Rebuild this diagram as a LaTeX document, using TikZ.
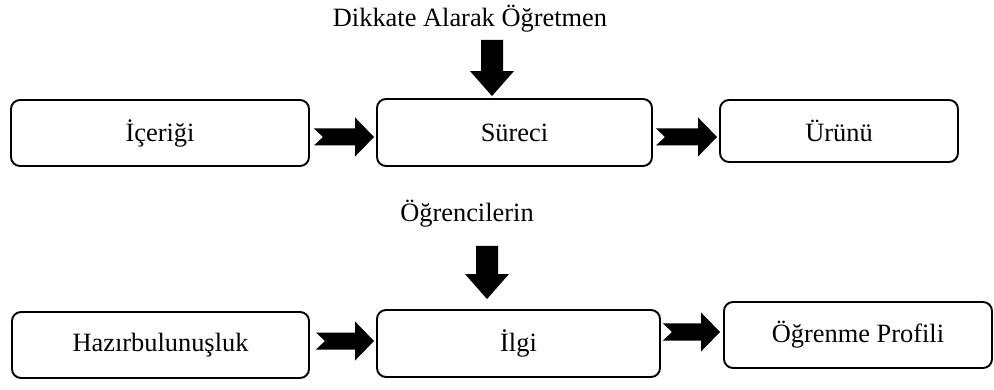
\documentclass[tikz,border=0pt]{standalone}
\usepackage{fontspec}
\setmainfont{Liberation Serif}
\usetikzlibrary{calc}
\tikzset{
  txtfont/.style={font=\fontsize{26.4}{30}\selectfont},
  box/.style={draw, line width=1.9pt, rounded corners=9pt, inner sep=0pt, txtfont},
  lbl/.style={inner sep=0pt, txtfont, anchor=base},
  blockarrow/.style={fill=black}
}
% horizontal block arrow with notched tail: #1 tail point, #2 tip point (same height as tail)
\newcommand\rarrow[2]{\fill[blockarrow] let \p1=(#1), \p2=(#2) in
  (\x1,\y1+8.5pt) -- (\x2-19pt,\y1+8.5pt) -- (\x2-19pt,\y1+19.5pt) -- (\x2,\y1)
  -- (\x2-19pt,\y1-19.5pt) -- (\x2-19pt,\y1-8.5pt) -- (\x1,\y1-8.5pt) -- (\x1+9pt,\y1) -- cycle;}
% vertical block arrow pointing down: #1 top of shaft, #2 tip
\newcommand\darrow[2]{\fill[blockarrow] let \p1=(#1), \p2=(#2) in
  (\x1-11pt,\y1) -- (\x1+11pt,\y1) -- (\x1+11pt,\y2+25pt) -- (\x1+22pt,\y2+25pt)
  -- (\x1,\y2) -- (\x1-22pt,\y2+25pt) -- (\x1-11pt,\y2+25pt) -- cycle;}
\begin{document}
\begin{tikzpicture}[x=1pt,y=-1pt]
\useasboundingbox (0,0) rectangle (994,390);
% top row
\node[box, minimum width=298pt, minimum height=66pt] (b1) at (160,133) {İçeriği};
\node[box, minimum width=275pt, minimum height=67pt] (b2) at (514.5,132.5) {Süreci};
\node[box, minimum width=238pt, minimum height=62pt] (b3) at (839,131) {Ürünü};
\node[lbl] (t1) at (470,27) {Dikkate Alarak Öğretmen};
% bottom row
\node[box, minimum width=297pt, minimum height=66pt] (b4) at (160.5,345) {Hazırbulunuşluk};
\node[box, minimum width=283pt, minimum height=67pt] (b5) at (518.5,343.5) {İlgi};
\node[box, minimum width=268pt, minimum height=66pt] (b6) at (858,335) {Öğrenme Profili};
\node[lbl] (t2) at (467,222) {Öğrencilerin};
% connectors
\rarrow{$(b1.east)+(4,4)$}{$(b2.west)+(-2,4)$}
\rarrow{$(b2.east)+(3,4.5)$}{$(b3.west)+(-2,6)$}
\rarrow{$(b4.east)+(6,-4)$}{$(b5.west)+(-2,-2.5)$}
\rarrow{$(b5.east)+(2,-11.5)$}{$(b6.west)+(-3,-3)$}
\darrow{$(t1.south)+(22,7)$}{$(b2.north)+(-22.5,-2)$}
\darrow{$(t2.south)+(20,18)$}{$(b5.north)+(-31.5,-10)$}
\end{tikzpicture}
\end{document}
